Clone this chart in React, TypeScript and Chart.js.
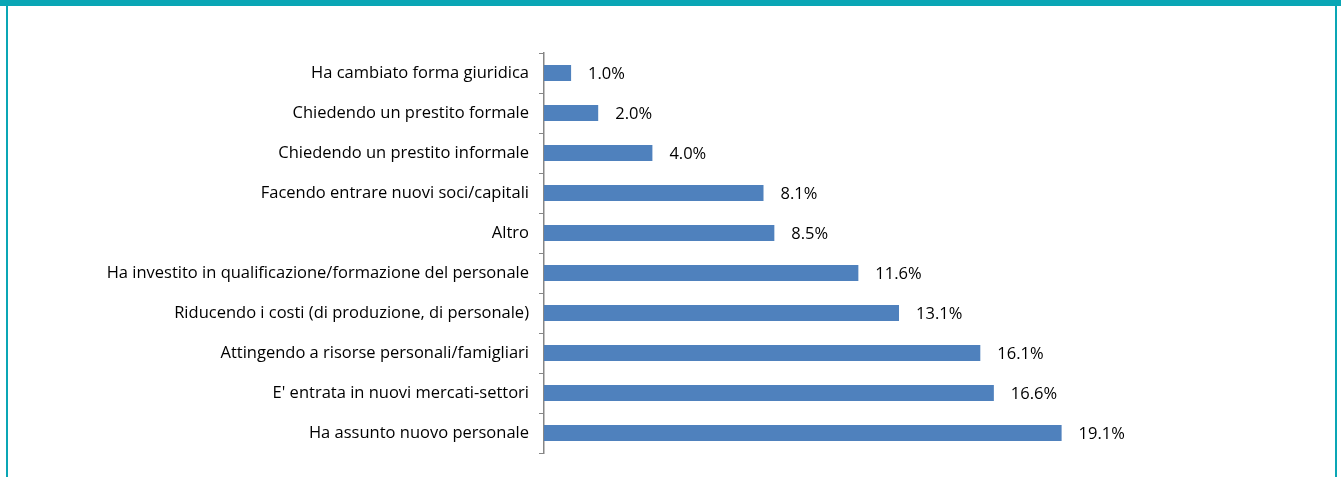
import React, { useEffect, useRef } from "react";
import { Chart, registerables } from "chart.js";

Chart.register(...registerables);

const categories = [
  "Ha cambiato forma giuridica",
  "Chiedendo un prestito formale",
  "Chiedendo un prestito informale",
  "Facendo entrare nuovi soci/capitali",
  "Altro",
  "Ha investito in qualificazione/formazione del personale",
  "Riducendo i costi (di produzione, di personale)",
  "Attingendo a risorse personali/famigliari",
  "E' entrata in nuovi mercati-settori",
  "Ha assunto nuovo personale",
];
const values = [1.0, 2.0, 4.0, 8.1, 8.5, 11.6, 13.1, 16.1, 16.6, 19.1];

const FONT = "'Open Sans', sans-serif";
const FONT_SIZE = 16.5;

const valueLabels = {
  id: "valueLabels",
  afterDatasetsDraw(chart: any) {
    const ctx = chart.ctx;
    const meta = chart.getDatasetMeta(0);
    ctx.save();
    ctx.font = `${FONT_SIZE}px ${FONT}`;
    ctx.fillStyle = "#000000";
    ctx.textAlign = "left";
    ctx.textBaseline = "middle";
    meta.data.forEach((bar: any, i: number) => {
      ctx.fillText(values[i].toFixed(1) + "%", bar.x + 17, bar.y + 1);
    });
    ctx.restore();
  },
};

export default function App() {
  const ref = useRef<HTMLCanvasElement>(null);
  useEffect(() => {
    const chart = new Chart(ref.current!, {
      type: "bar",
      data: {
        labels: categories,
        datasets: [
          {
            data: values,
            backgroundColor: "#4f81bd",
            borderWidth: 0,
            barPercentage: 0.4,
            categoryPercentage: 1,
          },
        ],
      },
      options: {
        indexAxis: "y",
        animation: false,
        responsive: false,
        maintainAspectRatio: false,
        layout: { padding: { top: 53, bottom: 24, left: 0, right: 234 } },
        plugins: { legend: { display: false }, tooltip: { enabled: false } },
        scales: {
          x: {
            display: false,
            min: 0,
            max: 20,
          },
          y: {
            afterFit: (s: any) => {
              s.width = 544;
            },
            grid: {
              offset: true,
              drawOnChartArea: false,
              drawTicks: true,
              tickLength: 5,
              color: "#868686",
            },
            border: { display: true, color: "#868686", width: 1.5 },
            ticks: {
              color: "#000000",
              padding: 10,
              font: { family: FONT, size: FONT_SIZE },
            },
          },
        },
      },
      plugins: [valueLabels],
    });
    return () => chart.destroy();
  }, []);
  return (
    <div
      style={{
        position: "fixed",
        left: 0,
        top: 0,
        width: 1341,
        height: 477,
        background: "#fff",
        overflow: "hidden",
      }}
    >
      <div style={{ position: "absolute", left: 0, top: 0, width: 1341, height: 6, background: "#0aa6b5" }} />
      <div style={{ position: "absolute", left: 6, top: 0, width: 2, height: 477, background: "#0aa6b5" }} />
      <div style={{ position: "absolute", left: 1335, top: 0, width: 2, height: 477, background: "#0aa6b5" }} />
      <canvas ref={ref} width={1320} height={477} style={{ position: "absolute", left: 0, top: 0 }} />
    </div>
  );
}
